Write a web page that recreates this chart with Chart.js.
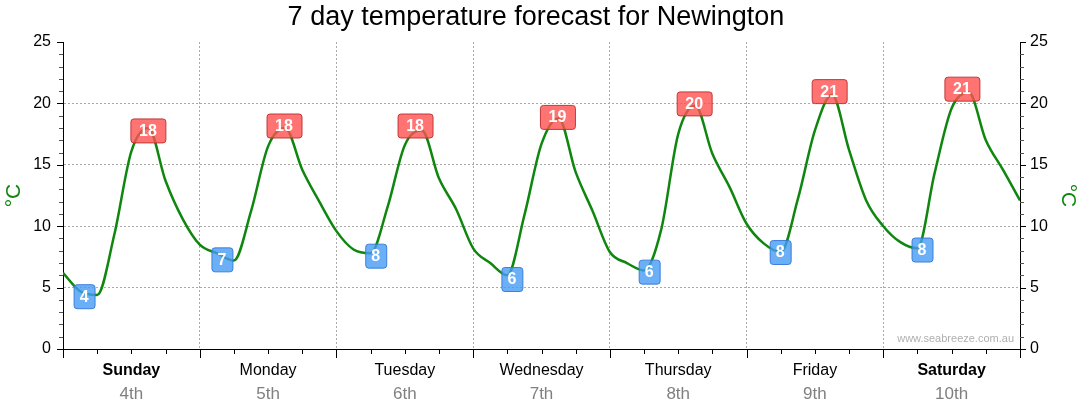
<!DOCTYPE html>
<html>
<head>
<meta charset="utf-8">
<script src="https://cdn.jsdelivr.net/npm/chart.js@4"></script>
<style>
  body { margin: 0; background: #fff; }
  #wrap { width: 1080px; height: 414px; position: relative; }
</style>
</head>
<body>
<div id="wrap"><canvas id="forecastChart"></canvas></div>
<script>
const chartTitle = "7 day temperature forecast for Newington";

// hours since midnight Sunday, 3-hourly
const hours = [0, 3, 6, 9, 12, 15, 18, 21, 24, 27, 30, 33, 36, 39, 42, 45, 48, 51, 54, 57,
  60, 63, 66, 69, 72, 75, 78, 81, 84, 87, 90, 93, 96, 99, 102, 105, 108, 111, 114, 117,
  120, 123, 126, 129, 132, 135, 138, 141, 144, 147, 150, 153, 156, 159, 162, 165, 168];
const temps = [6.2, 4.7, 4.4, 9.3, 16.1, 18.0, 13.7, 10.6, 8.5, 7.8, 7.2, 11.2, 16.5, 18.0, 14.6, 12.0, 9.6, 8.1, 7.8, 11.6,
  16.6, 17.8, 13.9, 11.4, 8.2, 7.0, 6.0, 10.9, 16.7, 18.8, 14.4, 11.2, 7.9, 7.0, 6.4, 9.7, 17.5, 19.8, 15.9, 13.2,
  10.2, 8.6, 7.9, 12.2, 17.8, 20.7, 16.2, 12.1, 10.0, 8.7, 8.2, 14.3, 19.6, 20.9, 17.0, 14.6, 12.1];

const lowHours = [3.7, 27.9, 54.9, 78.8, 102.9, 125.9, 150.8];
const lowTemps = [4.3, 7.3, 7.6, 5.7, 6.3, 7.9, 8.1];
const highHours = [14.9, 38.8, 61.8, 86.8, 110.8, 134.5, 157.8];
const highTemps = [17.8, 18.2, 18.2, 18.9, 20.0, 21.0, 21.2];

const dayNames = ["Sunday", "Monday", "Tuesday", "Wednesday", "Thursday", "Friday", "Saturday"];
const dayDates = ["4th", "5th", "6th", "7th", "8th", "9th", "10th"];
const weekend = [true, false, false, false, false, false, true];

const yTicks = [0, 5, 10, 15, 20, 25];

const FONT = "'Liberation Sans', Arial, sans-serif";

const extrasPlugin = {
  id: "extras",
  afterDatasetsDraw(chart) {
    const ctx = chart.ctx;
    const xs = chart.scales.x, ys = chart.scales.y;
    ctx.save();
    ctx.font = "bold 16px " + FONT;
    ctx.textAlign = "center";
    ctx.textBaseline = "middle";
    function box(h, v, fill, stroke) {
      const txt = String(Math.round(v));
      const w = 7 + 14 * txt.length, hgt = 24;
      const cx = xs.getPixelForValue(h), cy = ys.getPixelForValue(v);
      ctx.beginPath();
      ctx.roundRect(cx - w / 2 + 0.5, cy - hgt / 2 + 0.5, w, hgt, 3);
      ctx.fillStyle = fill;
      ctx.fill();
      ctx.lineWidth = 1;
      ctx.strokeStyle = stroke;
      ctx.stroke();
      ctx.fillStyle = "#fff";
      ctx.fillText(txt, cx, cy + 1);
    }
    lowHours.forEach((h, i) => box(h, lowTemps[i], "rgba(70,155,245,0.8)", "rgba(50,120,215,0.9)"));
    highHours.forEach((h, i) => box(h, highTemps[i], "rgba(255,80,80,0.8)", "rgba(185,45,45,0.9)"));
    ctx.restore();
  },
  afterDraw(chart) {
    const ctx = chart.ctx;
    const xs = chart.scales.x, ys = chart.scales.y;
    const area = chart.chartArea;
    ctx.save();

    // title
    ctx.fillStyle = "#000";
    ctx.font = "27px " + FONT;
    ctx.textAlign = "center";
    ctx.textBaseline = "middle";
    ctx.fillText(chartTitle, 536, 18);

    // y ticks, both sides
    ctx.lineWidth = 1;
    for (let v = 0; v <= 25; v++) {
      const major = v % 5 === 0;
      const y = Math.round(ys.getPixelForValue(v)) + 0.5;
      ctx.strokeStyle = major ? "#000" : "#555";
      const len = major ? 6 : 4;
      ctx.beginPath();
      ctx.moveTo(area.left - len, y); ctx.lineTo(area.left, y);
      ctx.moveTo(area.right, y); ctx.lineTo(area.right + len, y);
      ctx.stroke();
    }
    // x ticks every 6 hours
    for (let h = 0; h <= 168; h += 6) {
      const major = h % 24 === 0;
      const x = Math.round(xs.getPixelForValue(h)) + 0.5;
      ctx.strokeStyle = "#000";
      ctx.beginPath();
      ctx.moveTo(x, area.bottom);
      ctx.lineTo(x, area.bottom + (major ? 9 : 5));
      ctx.stroke();
    }

    // day labels
    dayNames.forEach((d, i) => {
      const x = xs.getPixelForValue(i * 24 + 12);
      ctx.fillStyle = "#000";
      ctx.font = (weekend[i] ? "bold " : "") + "16px " + FONT;
      ctx.fillText(d, x, 371);
      ctx.fillStyle = "#808080";
      ctx.font = "17px " + FONT;
      ctx.fillText(dayDates[i], x, 394);
    });

    // watermark
    ctx.fillStyle = "#b0b0b0";
    ctx.font = "11px " + FONT;
    ctx.textAlign = "right";
    ctx.fillText("www.seabreeze.com.au", area.right - 6, 339);
    ctx.restore();
  }
};

new Chart(document.getElementById("forecastChart"), {
  type: "line",
  data: {
    datasets: [{
      data: hours.map((h, i) => ({ x: h, y: temps[i] })),
      borderColor: "#0f870f",
      borderWidth: 2.5,
      pointRadius: 0,
      cubicInterpolationMode: "monotone",
      fill: false
    }]
  },
  options: {
    responsive: true,
    maintainAspectRatio: false,
    animation: false,
    layout: { padding: { top: 42, left: 0, right: 0, bottom: 0 } },
    plugins: { legend: { display: false }, tooltip: { enabled: false } },
    scales: {
      x: {
        type: "linear",
        min: 0, max: 168,
        ticks: { stepSize: 24, display: false },
        grid: {
          drawTicks: false,
          color: c => (c.tick && c.tick.value > 0 && c.tick.value < 168) ? "#aaa" : "rgba(0,0,0,0)",
        },
        border: { color: "#000", width: 1, dash: [2, 2] },
        afterFit: s => { s.height = 65; }
      },
      y: {
        position: "left",
        min: 0, max: 25,
        afterBuildTicks: s => { s.ticks = yTicks.map(v => ({ value: v })); },
        ticks: { color: "#000", font: { size: 16, family: FONT }, padding: 12 },
        grid: {
          drawTicks: false,
          color: c => (c.tick && c.tick.value > 0 && c.tick.value < 25) ? "#aaa" : "rgba(0,0,0,0)"
        },
        border: { color: "#000", dash: [2, 2], display: true },
        title: { display: true, text: "°C", color: "#0f870f", font: { size: 21, family: FONT }, padding: { top: 2, bottom: 0 } },
        afterFit: s => { s.width = 63; }
      },
      y2: {
        position: "right",
        min: 0, max: 25,
        afterBuildTicks: s => { s.ticks = yTicks.map(v => ({ value: v })); },
        ticks: { color: "#000", font: { size: 16, family: FONT }, padding: 10 },
        grid: { display: false, drawTicks: false },
        border: { color: "#000" },
        title: { display: true, text: "°C", color: "#0f870f", font: { size: 21, family: FONT }, padding: { top: 0, bottom: 0 } },
        afterFit: s => { s.width = 60; }
      }
    }
  },
  plugins: [extrasPlugin]
});
</script>
</body>
</html>
